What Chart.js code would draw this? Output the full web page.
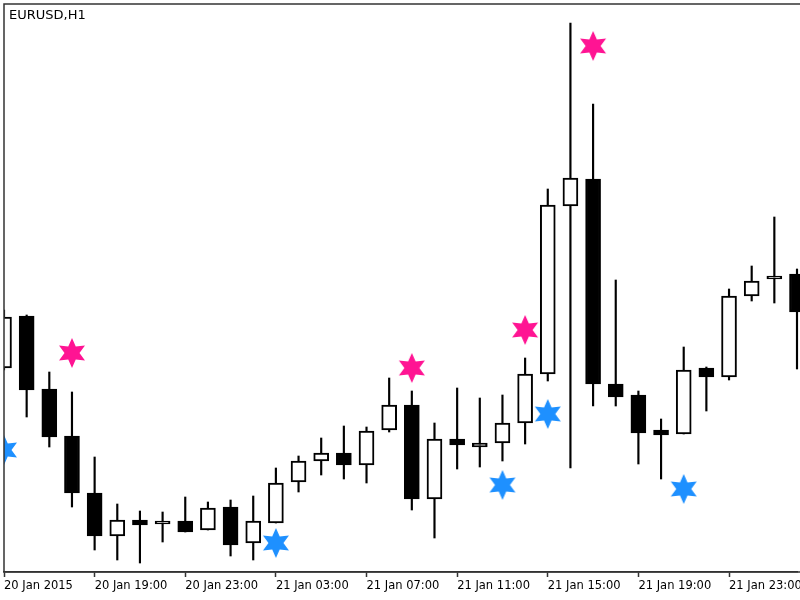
<!DOCTYPE html>
<html>
<head>
<meta charset="utf-8">
<script src="https://cdn.jsdelivr.net/npm/chart.js@4.4.1/dist/chart.umd.min.js"></script>
<style>
    html, body { margin: 0; padding: 0; background: #fff; }
    #wrap { position: relative; width: 800px; height: 600px; }
    #title { position: absolute; left: 9px; top: 7px; font: 13px "DejaVu Sans", sans-serif; color: #000; }
</style>
</head>
<body>
<div id="wrap">
    <canvas id="myChart" width="800" height="600"></canvas>
    <div id="title">EURUSD,H1</div>
</div>
<script>
// H1 candles, 20 Jan 15:00 -> 22 Jan 02:00
var categories = [
    '20 Jan 15:00', '20 Jan 16:00', '20 Jan 17:00', '20 Jan 18:00', '20 Jan 19:00', '20 Jan 20:00',
    '20 Jan 21:00', '20 Jan 22:00', '20 Jan 23:00', '21 Jan 00:00', '21 Jan 01:00', '21 Jan 02:00',
    '21 Jan 03:00', '21 Jan 04:00', '21 Jan 05:00', '21 Jan 06:00', '21 Jan 07:00', '21 Jan 08:00',
    '21 Jan 09:00', '21 Jan 10:00', '21 Jan 11:00', '21 Jan 12:00', '21 Jan 13:00', '21 Jan 14:00',
    '21 Jan 15:00', '21 Jan 16:00', '21 Jan 17:00', '21 Jan 18:00', '21 Jan 19:00', '21 Jan 20:00',
    '21 Jan 21:00', '21 Jan 22:00', '21 Jan 23:00', '22 Jan 00:00', '22 Jan 01:00', '22 Jan 02:00'
];
var tickLabels = ['20 Jan 2015', '20 Jan 19:00', '20 Jan 23:00', '21 Jan 03:00', '21 Jan 07:00',
    '21 Jan 11:00', '21 Jan 15:00', '21 Jan 19:00', '21 Jan 23:00'];

var opens = [1.15812, 1.15968, 1.15749, 1.15608, 1.15437, 1.15308, 1.15356, 1.15344, 1.15353, 1.15326,
    1.15395, 1.15287, 1.15347, 1.15470, 1.15533, 1.15557, 1.15521, 1.15626, 1.15701, 1.15419,
    1.15599, 1.15575, 1.15587, 1.15647, 1.15794, 1.16298, 1.16379, 1.15764, 1.15731, 1.15626,
    1.15614, 1.15812, 1.15785, 1.16028, 1.16079, 1.16094];
var highs = [1.15986, 1.15971, 1.15800, 1.15740, 1.15545, 1.15404, 1.15383, 1.15380, 1.15425, 1.15410,
    1.15416, 1.15428, 1.15512, 1.15548, 1.15602, 1.15638, 1.15635, 1.15782, 1.15743, 1.15647,
    1.15752, 1.15722, 1.15731, 1.15842, 1.16349, 1.16847, 1.16604, 1.16076, 1.15743, 1.15659,
    1.15875, 1.15815, 1.16049, 1.16118, 1.16265, 1.16109];
var lows = [1.15806, 1.15665, 1.15575, 1.15395, 1.15266, 1.15236, 1.15227, 1.15290, 1.15320, 1.15326,
    1.15248, 1.15236, 1.15347, 1.15440, 1.15491, 1.15479, 1.15467, 1.15620, 1.15386, 1.15302,
    1.15509, 1.15515, 1.15533, 1.15584, 1.15773, 1.15512, 1.15698, 1.15698, 1.15524, 1.15479,
    1.15614, 1.15683, 1.15776, 1.16013, 1.16007, 1.15809];
var closes = [1.15965, 1.15746, 1.15605, 1.15437, 1.15308, 1.15356, 1.15341, 1.15353, 1.15320, 1.15392,
    1.15281, 1.15353, 1.15467, 1.15533, 1.15557, 1.15521, 1.15623, 1.15701, 1.15419, 1.15599,
    1.15581, 1.15587, 1.15647, 1.15794, 1.16301, 1.16382, 1.15764, 1.15725, 1.15617, 1.15611,
    1.15806, 1.15785, 1.16028, 1.16073, 1.16088, 1.15980];

// star markers (pink above, blue below)
var pinkStars = [null, null, null, 1.15857, null, null, null, null, null, null,
    null, null, null, null, null, null, null, null, 1.15812, null,
    null, null, null, 1.15926, null, null, 1.16778, null, null, null,
    null, null, null, null, null, null];
var blueStars = [1.15566, null, null, null, null, null, null, null, null, null,
    null, null, 1.15287, null, null, null, null, null, null, null,
    null, null, 1.15461, null, 1.15674, null, null, null, null, null,
    1.15449, null, null, null, null, null];

function makeStar(color) {
    var c = document.createElement('canvas');
    c.width = 32;
    c.height = 32;
    var g = c.getContext('2d');
    g.fillStyle = color;
    g.beginPath();
    for (var k = 0; k < 12; k++) {
        var r = (k % 2 === 0) ? 15 : 7.5;
        var a = -Math.PI / 2 + k * Math.PI / 6;
        var px = 16 + r * Math.cos(a);
        var py = 16 + r * Math.sin(a);
        if (k === 0) g.moveTo(px, py); else g.lineTo(px, py);
    }
    g.closePath();
    g.fill();
    return c;
}

var bodies = categories.map(function(c, i) { return [opens[i], closes[i]]; });
var wicks = categories.map(function(c, i) { return [lows[i], highs[i]]; });
var bodyFill = categories.map(function(c, i) { return closes[i] >= opens[i] ? '#ffffff' : '#000000'; });

var clipBox = { left: 0, top: 0, right: 10, bottom: 0 };

// frame lines: left, top, and the bottom line to the canvas edge
var framePlugin = {
    id: 'frame',
    afterDraw: function(chart) {
        var a = chart.chartArea;
        var c = chart.ctx;
        c.save();
        c.strokeStyle = '#333';
        c.lineWidth = 1.5;
        c.beginPath();
        c.moveTo(chart.width, a.bottom);
        c.lineTo(a.left, a.bottom);
        c.lineTo(a.left, a.top);
        c.lineTo(chart.width, a.top);
        c.stroke();
        c.restore();
    }
};

var ctx = document.getElementById('myChart').getContext('2d');
var myChart = new Chart(ctx, {
    type: 'bar',
    data: {
        labels: categories,
        datasets: [{
            label: 'pink',
            type: 'line',
            data: pinkStars,
            showLine: false,
            pointStyle: makeStar('#ff1493'),
            pointRadius: 1,
            clip: clipBox,
            order: 0
        },
        {
            label: 'blue',
            type: 'line',
            data: blueStars,
            showLine: false,
            pointStyle: makeStar('#1e90ff'),
            pointRadius: 1,
            clip: clipBox,
            order: 0
        },
        {
            label: 'body',
            data: bodies,
            backgroundColor: bodyFill,
            borderColor: '#000',
            borderWidth: 2,
            borderSkipped: false,
            barThickness: 15,
            minBarLength: 2,
            grouped: false,
            clip: clipBox,
            order: 1
        },
        {
            label: 'wick',
            data: wicks,
            backgroundColor: '#000',
            borderWidth: 0,
            barThickness: 1.5,
            grouped: false,
            clip: clipBox,
            order: 2
        }]
    },
    options: {
        responsive: false,
        animation: false,
        layout: { autoPadding: false, padding: { left: 4, top: 4, right: 3, bottom: 0 } },
        plugins: {
            legend: { display: false },
            tooltip: { enabled: false }
        },
        scales: {
            x: {
                offset: false,
                grid: {
                    offset: false,
                    drawOnChartArea: false,
                    drawTicks: true,
                    tickLength: 5,
                    tickWidth: 1.5,
                    tickColor: function(c) { return c.index % 4 === 0 ? '#333' : 'rgba(0,0,0,0)'; }
                },
                border: { display: true, color: '#333', width: 1.5 },
                ticks: {
                    autoSkip: false,
                    maxRotation: 0,
                    minRotation: 0,
                    align: 'start',
                    padding: 2,
                    color: '#000',
                    font: { family: 'DejaVu Sans', size: 11.5 },
                    callback: function(v, i) { return i % 4 === 0 ? tickLabels[i / 4] : ''; }
                },
                afterFit: function(scale) { scale.height = 28; }
            },
            y: {
                display: false,
                min: 1.152,
                max: 1.16904
            }
        }
    },
    plugins: [framePlugin]
});
</script>
</body>
</html>
